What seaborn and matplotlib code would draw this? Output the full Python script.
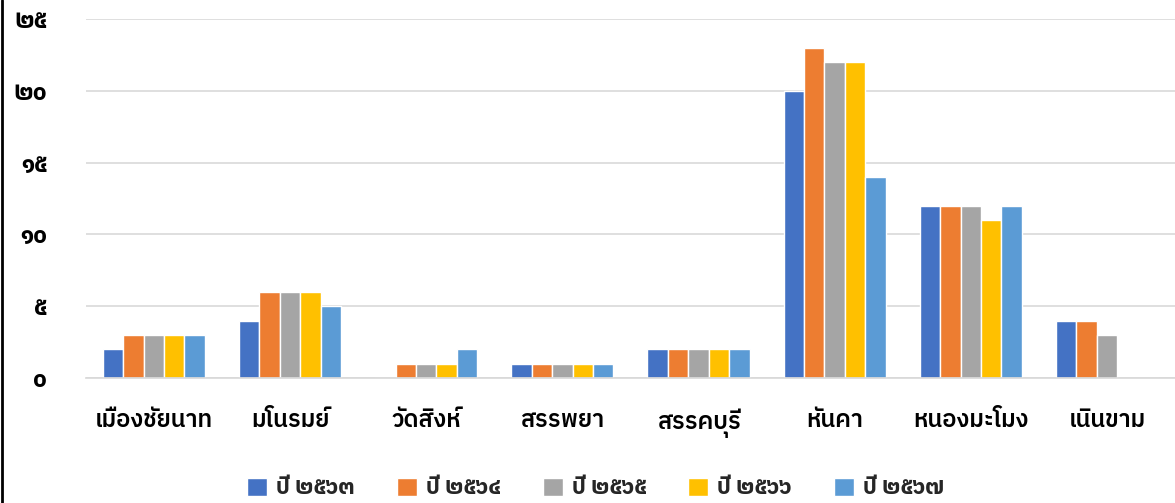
import pandas as pd
import seaborn as sns
import matplotlib.pyplot as plt
from matplotlib import font_manager

districts = ["เมืองชัยนาท", "มโนรมย์", "วัดสิงห์", "สรรพยา",
             "สรรคบุรี", "หันคา", "หนองมะโมง", "เนินขาม"]
years = ["ปี ๒๕๖๓", "ปี ๒๕๖๔", "ปี ๒๕๖๕", "ปี ๒๕๖๖", "ปี ๒๕๖๗"]
y2563 = [2, 4, 0, 1, 2, 20, 12, 4]
y2564 = [3, 6, 1, 1, 2, 23, 12, 4]
y2565 = [3, 6, 1, 1, 2, 22, 12, 3]
y2566 = [3, 6, 1, 1, 2, 22, 11, 0]
y2567 = [3, 5, 2, 1, 2, 14, 12, 0]
ytick_vals = [0, 5, 10, 15, 20, 25]
ytick_labels = ["๐", "๕", "๑๐", "๑๕", "๒๐", "๒๕"]
colors = ["#4472C4", "#ED7D31", "#A5A5A5", "#FFC000", "#5B9BD5"]

rows = []
for yr, vals in zip(years, [y2563, y2564, y2565, y2566, y2567]):
    for d, v in zip(districts, vals):
        rows.append({"district": d, "year": yr, "count": v})
df = pd.DataFrame(rows)

sns.set_theme(style="white")
names = sorted({f.name for f in font_manager.fontManager.ttflist})
thai = [n for n in names if "Thai" in n or "Tlwg" in n or "Garuda" in n or "Loma" in n]
plt.rcParams["font.family"] = thai + ["Noto Sans", "DejaVu Sans"]

fig = plt.figure(figsize=(11.75, 5.03), dpi=100)
ax = fig.add_axes([0.073, 0.2485, 0.927, 0.7135])
sns.barplot(data=df, x="district", y="count", hue="year", palette=colors,
            saturation=1, width=0.75, edgecolor="white", linewidth=1.0, ax=ax)

ax.set_ylim(0, 25)
ax.set_yticks(ytick_vals)
ax.set_yticklabels(ytick_labels, fontsize=17, fontweight="bold", color="black")
ax.tick_params(axis="y", length=0, pad=28)
ax.tick_params(axis="x", length=0, pad=22)
for lbl in ax.get_xticklabels():
    lbl.set_fontsize(17)
    lbl.set_fontweight("semibold")
    lbl.set_color("black")
ax.yaxis.grid(True, color="#D9D9D9", linewidth=1.2)
ax.set_axisbelow(True)
for s in ["top", "right", "left"]:
    ax.spines[s].set_visible(False)
ax.spines["bottom"].set_color("#D9D9D9")
ax.set_xlabel("")
ax.set_ylabel("")

handles, labels = ax.get_legend_handles_labels()
ax.legend_.remove()
fig.legend(handles, labels, loc="center", bbox_to_anchor=(0.507, 0.03), ncol=5,
           frameon=False, handlelength=0.9, handleheight=0.9,
           columnspacing=1.9, handletextpad=0.4,
           prop={"weight": "bold", "size": 16})

fig.add_artist(plt.Line2D([0.002, 0.002], [0, 1], color="black", linewidth=2,
                          transform=fig.transFigure))
fig.savefig("out.png", dpi=100, facecolor="white")
